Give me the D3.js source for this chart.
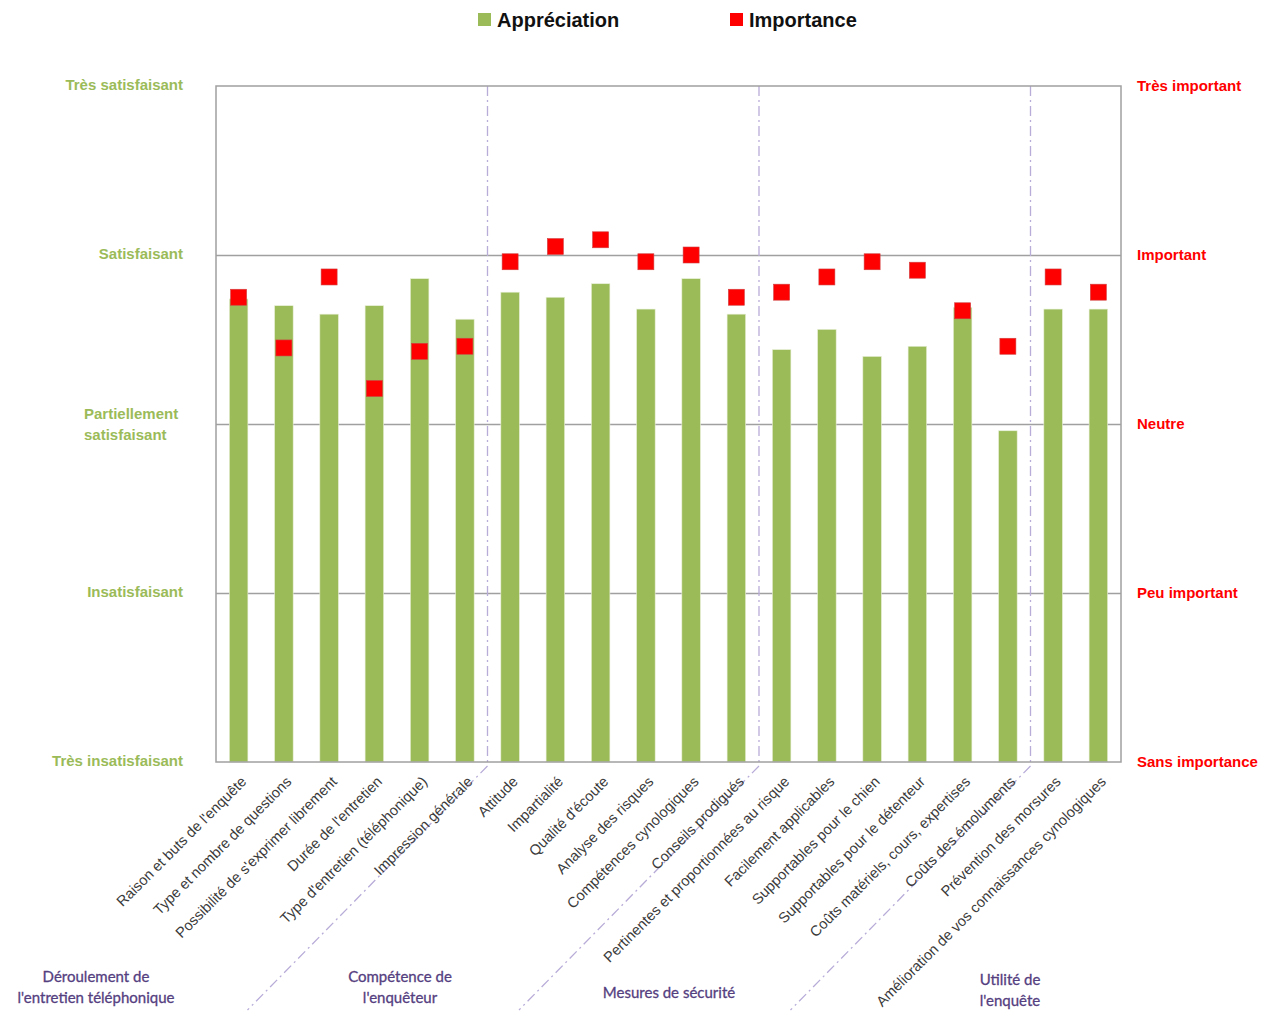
<!DOCTYPE html>
<html>
<head>
<meta charset="utf-8">
<script src="https://cdn.jsdelivr.net/npm/d3@7"></script>
<style>
  body { margin: 0; background: #fff; }
  svg { display: block; }
</style>
</head>
<body>
<div id="container"></div>
<script>
// data
var categories = [
  "Raison et buts de l'enquête",
  "Type et nombre de questions",
  "Possibilité de s'exprimer librement",
  "Durée de l'entretien",
  "Type d'entretien (téléphonique)",
  "Impression générale",
  "Attitude",
  "Impartialité",
  "Qualité d'écoute",
  "Analyse des risques",
  "Compétences cynologiques",
  "Conseils prodigués",
  "Pertinentes et proportionnées au risque",
  "Facilement applicables",
  "Supportables pour le chien",
  "Supportables pour le détenteur",
  "Coûts matériels, cours, expertises",
  "Coûts des émoluments",
  "Prévention des morsures",
  "Amélioration de vos connaissances cynologiques"
];
var appreciation = [3.74, 3.70, 3.65, 3.70, 3.86, 3.62, 3.78, 3.75, 3.83, 3.68,
                    3.86, 3.65, 3.44, 3.56, 3.40, 3.46, 3.69, 2.96, 3.68, 3.68];
var importance = [3.75, 3.45, 3.87, 3.21, 3.43, 3.46, 3.96, 4.05, 4.09, 3.96,
                  4.00, 3.75, 3.78, 3.87, 3.96, 3.91, 3.67, 3.46, 3.87, 3.78];
var groupNames = ["Déroulement de\nl'entretien téléphonique", "Compétence de\nl'enquêteur",
                  "Mesures de sécurité", "Utilité de\nl'enquête"];
var groupSizes = [6, 6, 6, 2];
var levels = [1, 2, 3, 4, 5];
var leftLabels = ["Très insatisfaisant", "Insatisfaisant", "Partiellement\nsatisfaisant", "Satisfaisant", "Très satisfaisant"];
var rightLabels = ["Sans importance", "Peu important", "Neutre", "Important", "Très important"];
var seriesNames = ["Appréciation", "Importance"];

var width = 1261,
    height = 1011;
var margin = {left: 216, right: 140, top: 86, bottom: 249};

var green = "#9bbb59", red = "#ff0000", gridColor = "#a0a0a0", sepColor = "#b8acd8";

var svg = d3.select("#container").append("svg")
    .attr("width", width)
    .attr("height", height)
    .style("font-family", "'Liberation Sans', Arial, sans-serif");

var x = d3.scaleBand()
    .domain(categories)
    .range([margin.left, width - margin.right])
    .paddingInner(0.59)
    .paddingOuter(0.295);

var y = d3.scaleLinear()
    .domain([1, 5])
    .range([height - margin.bottom, margin.top]);

var x0 = x.range()[0], x1 = x.range()[1];

// gridlines
svg.append("g")
    .attr("transform", "translate(" + x0 + ",0)")
    .call(d3.axisRight(y).tickValues([2, 3, 4]).tickSize(x1 - x0).tickFormat(""))
    .call(g => g.select(".domain").remove())
    .selectAll("line")
    .attr("stroke", gridColor)
    .attr("stroke-width", 1.5);

// group separators (vertical inside the plot, then diagonal down-left)
var cx = d => x(d) + x.bandwidth() / 2;
var bounds = [];
var acc = 0;
for (let i = 0; i < groupSizes.length - 1; ++i) {
    acc += groupSizes[i];
    bounds.push((cx(categories[acc - 1]) + cx(categories[acc])) / 2);
}
svg.selectAll(".sep")
    .data(bounds)
    .enter().append("path")
    .attr("class", "sep")
    .attr("d", b => "M" + b + "," + y(5) + "L" + b + "," + (y(1) + 4) + "L" + (b - 240) + "," + (height - 1))
    .attr("fill", "none")
    .attr("stroke", sepColor)
    .attr("stroke-width", 1.3)
    .attr("stroke-dasharray", "10,4,2,4");

// bars
svg.selectAll(".bar")
    .data(appreciation)
    .enter().append("rect")
    .attr("class", "bar")
    .attr("x", (d, i) => x(categories[i]))
    .attr("y", d => y(d))
    .attr("width", x.bandwidth())
    .attr("height", d => y(1) - y(d))
    .attr("fill", green)
    .attr("stroke", "#e8f0d8")
    .attr("stroke-width", 0.6);

// importance markers
var sq = 16;
svg.selectAll(".imp")
    .data(importance)
    .enter().append("rect")
    .attr("class", "imp")
    .attr("x", (d, i) => cx(categories[i]) - sq / 2)
    .attr("y", d => y(d) - sq / 2)
    .attr("width", sq)
    .attr("height", sq)
    .attr("fill", red)
    .attr("stroke", "#d04040")
    .attr("stroke-width", 0.6);

// plot frame
svg.append("rect")
    .attr("x", x0)
    .attr("y", y(5))
    .attr("width", x1 - x0)
    .attr("height", y(1) - y(5))
    .attr("fill", "none")
    .attr("stroke", gridColor)
    .attr("stroke-width", 1.5);

// left axis (appréciation)
var left = svg.append("g")
    .attr("transform", "translate(183,0)")
    .call(d3.axisLeft(y).tickValues(levels).tickSize(0).tickFormat((d, i) => leftLabels[i]));
left.select(".domain").remove();
left.selectAll("text")
    .attr("fill", green)
    .attr("font-size", 15)
    .attr("font-weight", "bold")
    .attr("font-family", "'Liberation Sans', Arial, sans-serif")
    .attr("x", 0)
    .attr("dy", "0.2em")
    .each(function(d, i) {
        var lines = leftLabels[i].split("\n");
        if (lines.length > 1) {
            var t = d3.select(this).text(null).attr("text-anchor", "start").attr("dy", null);
            lines.forEach((l, k) => {
                t.append("tspan").attr("x", -99).attr("dy", k == 0 ? "-0.4em" : "1.45em").text(l);
            });
        }
    });

// right axis (importance)
var right = svg.append("g")
    .attr("transform", "translate(1137,0)")
    .call(d3.axisRight(y).tickValues(levels).tickSize(0).tickFormat((d, i) => rightLabels[i]));
right.select(".domain").remove();
right.selectAll("text")
    .attr("fill", red)
    .attr("font-size", 15)
    .attr("font-weight", "bold")
    .attr("font-family", "'Liberation Sans', Arial, sans-serif")
    .attr("x", 0)
    .attr("dy", "0.3em");

// category labels
var xa = svg.append("g")
    .attr("transform", "translate(0," + y(1) + ")")
    .call(d3.axisBottom(x).tickSize(0));
xa.select(".domain").remove();
xa.selectAll("text")
    .attr("fill", "#3a3a3a")
    .attr("font-size", 14.6)
    .attr("font-family", "'Liberation Sans', Arial, sans-serif")
    .attr("text-anchor", "end")
    .attr("x", 0)
    .attr("y", 0)
    .attr("dy", "0.35em")
    .attr("transform", "translate(5,17) rotate(-45)");

// group labels
var groupPos = [[96, 977], [400, 977], [669, 993], [1010, 980]];
svg.selectAll(".grp")
    .data(groupNames)
    .enter().append("text")
    .attr("class", "grp")
    .attr("text-anchor", "middle")
    .attr("font-family", "Lato, 'Open Sans', sans-serif")
    .attr("font-size", 15)
    .attr("fill", "#55407f")
    .attr("stroke", "#55407f")
    .attr("stroke-width", 0.3)
    .each(function(d, i) {
        var t = d3.select(this);
        d.split("\n").forEach((l, k) => {
            t.append("tspan")
                .attr("x", groupPos[i][0])
                .attr("y", groupPos[i][1] + k * 21)
                .attr("dy", "0.35em")
                .text(l);
        });
    });

// legend
var legend = svg.selectAll(".leg")
    .data(seriesNames)
    .enter().append("g")
    .attr("class", "leg")
    .attr("transform", (d, i) => "translate(" + (478 + i * 252) + ",13)");
legend.append("rect")
    .attr("width", 13)
    .attr("height", 13)
    .attr("fill", (d, i) => i == 0 ? green : red);
legend.append("text")
    .attr("x", 19)
    .attr("y", 7)
    .attr("dy", "0.35em")
    .attr("font-size", 20)
    .attr("font-weight", "bold")
    .attr("fill", "#111")
    .text(d => d);
</script>
</body>
</html>
